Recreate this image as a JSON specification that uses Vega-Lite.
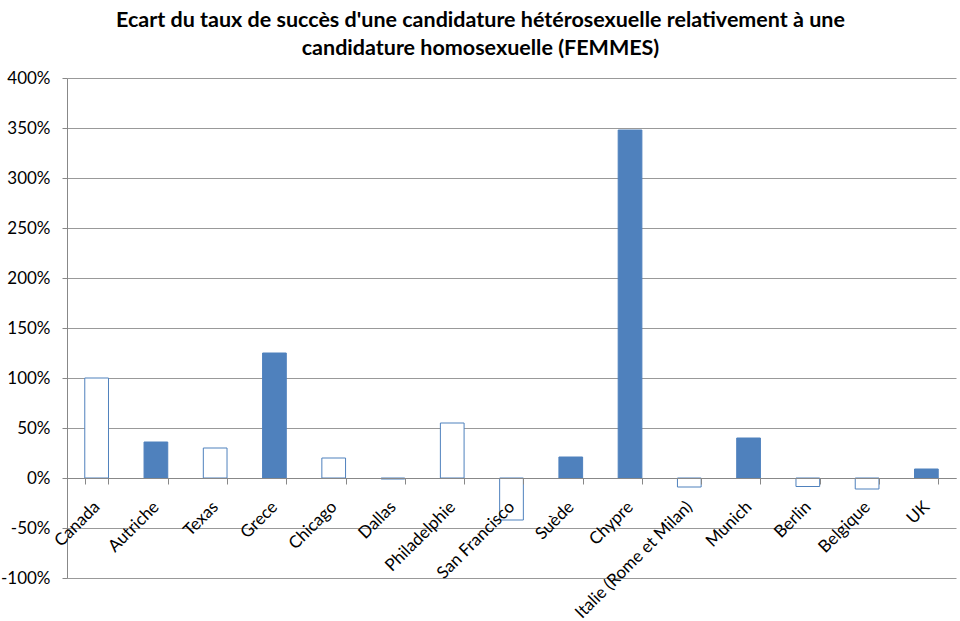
{
  "$schema": "https://vega.github.io/schema/vega-lite/v6.json",
  "width": 889,
  "height": 500,
  "autosize": {"type": "none"},
  "padding": {"left": 67, "top": 78, "right": 4, "bottom": 43},
  "background": "white",
  "title": {
    "text": ["Ecart du taux de succès d'une candidature hétérosexuelle relativement à une", "candidature homosexuelle (FEMMES)"],
    "font": "Lato",
    "fontSize": 21.5,
    "fontWeight": "bold",
    "color": "#000000",
    "anchor": "middle",
    "dx": -31,
    "offset": 10,
    "lineHeight": 28
  },
  "data": {
    "values": [
      {"lieu": "Canada", "ecart": 1.00, "style": "vide"},
      {"lieu": "Autriche", "ecart": 0.36, "style": "plein"},
      {"lieu": "Texas", "ecart": 0.30, "style": "vide"},
      {"lieu": "Grece", "ecart": 1.25, "style": "plein"},
      {"lieu": "Chicago", "ecart": 0.20, "style": "vide"},
      {"lieu": "Dallas", "ecart": -0.01, "style": "vide"},
      {"lieu": "Philadelphie", "ecart": 0.55, "style": "vide"},
      {"lieu": "San Francisco", "ecart": -0.42, "style": "vide"},
      {"lieu": "Suède", "ecart": 0.21, "style": "plein"},
      {"lieu": "Chypre", "ecart": 3.48, "style": "plein"},
      {"lieu": "Italie (Rome et Milan)", "ecart": -0.09, "style": "vide"},
      {"lieu": "Munich", "ecart": 0.40, "style": "plein"},
      {"lieu": "Berlin", "ecart": -0.085, "style": "vide"},
      {"lieu": "Belgique", "ecart": -0.11, "style": "vide"},
      {"lieu": "UK", "ecart": 0.09, "style": "plein"}
    ]
  },
  "mark": {"type": "bar", "stroke": "#4F81BD", "strokeWidth": 1},
  "encoding": {
    "x": {
      "field": "lieu",
      "type": "nominal",
      "sort": null,
      "scale": {"paddingInner": 0.6, "paddingOuter": 0.3},
      "axis": {
        "title": null,
        "orient": "bottom",
        "offset": -100,
        "zindex": 1,
        "tickBand": "extent",
        "labelAngle": -45,
        "labelAlign": "right",
        "labelBaseline": "middle",
        "labelFont": "Lato",
        "labelFontSize": 17,
        "labelColor": "#000000",
        "labelPadding": 20,
        "labelOverlap": false,
        "labelBound": false,
        "labelLimit": 300,
        "domainColor": "#888888",
        "tickColor": "#888888",
        "tickSize": 6,
        "grid": false
      }
    },
    "y": {
      "field": "ecart",
      "type": "quantitative",
      "scale": {"domain": [-1, 4], "nice": false, "zero": false},
      "axis": {
        "title": null,
        "values": [-1, -0.5, 0, 0.5, 1, 1.5, 2, 2.5, 3, 3.5, 4],
        "format": ".0%",
        "labelExpr": "replace(datum.label, '−', '-')",
        "labelFont": "Lato",
        "labelFontSize": 17,
        "labelColor": "#000000",
        "labelPadding": 12,
        "domainColor": "#888888",
        "tickColor": "#888888",
        "tickSize": 5,
        "gridColor": "#999999",
        "gridWidth": 1
      }
    },
    "fill": {
      "field": "style",
      "type": "nominal",
      "scale": {"domain": ["plein", "vide"], "range": ["#4F81BD", "#FFFFFF"]},
      "legend": null
    }
  },
  "config": {"view": {"stroke": null}}
}
